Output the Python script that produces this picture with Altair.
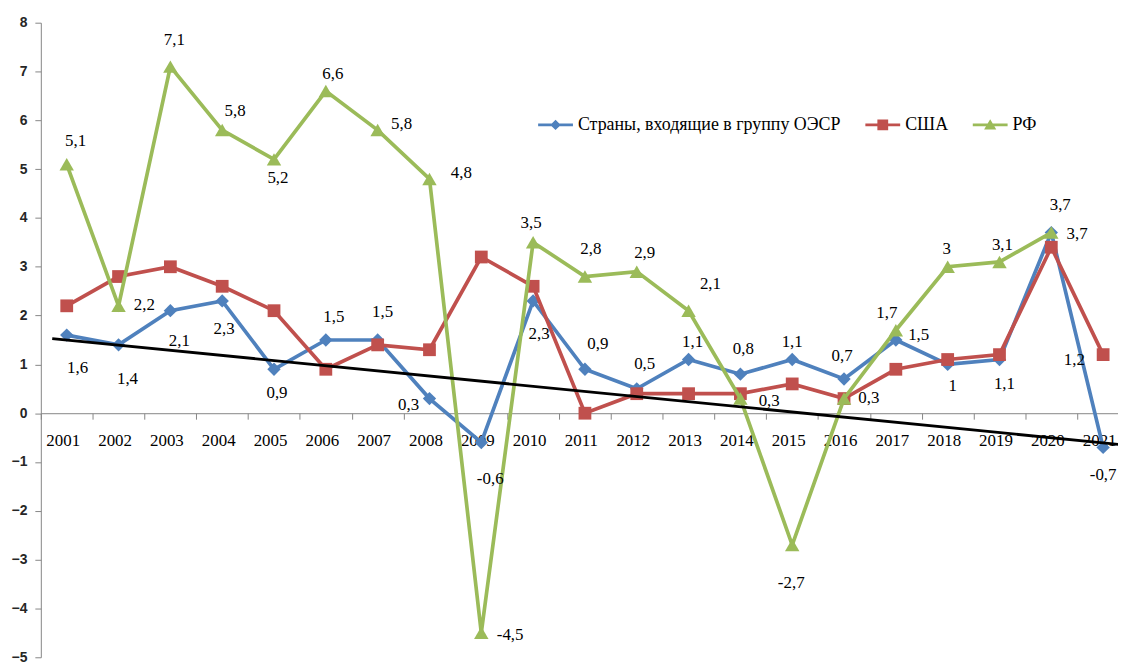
import altair as alt
import pandas as pd

# ---------------- data ----------------
YEARS = list(range(2001, 2022))
SERIES = ["Страны, входящие в группу ОЭСР", "США", "РФ"]
OECD = [1.6, 1.4, 2.1, 2.3, 0.9, 1.5, 1.5, 0.3, -0.6, 2.3, 0.9, 0.5, 1.1, 0.8,
        1.1, 0.7, 1.5, 1.0, 1.1, 3.7, -0.7]
USA = [2.2, 2.8, 3.0, 2.6, 2.1, 0.9, 1.4, 1.3, 3.2, 2.6, 0.0, 0.4, 0.4, 0.4,
       0.6, 0.3, 0.9, 1.1, 1.2, 3.4, 1.2]
RF_YEARS = list(range(2001, 2021))
RF = [5.1, 2.2, 7.1, 5.8, 5.2, 6.6, 5.8, 4.8, -4.5, 3.5, 2.8, 2.9, 2.1, 0.3,
      -2.7, 0.3, 1.7, 3.0, 3.1, 3.7]
USA_LABEL_YEARS = [2021]
TREND_YEARS = [2000.72, 2021.3]
TREND_VALUES = [1.53, -0.64]
Y_TICKS = list(range(-5, 9))

# ---------------- layout / style ----------------
COLORS = ["#4F81BD", "#C0504D", "#9BBB59"]
SHAPES = ["diamond", "square", "triangle-up"]
SIZES = [180, 165, 210]
LEG_PATHS = [
    "M-1,-0.077H1V0.077H-1Z M0,-0.3L0.3,0L0,0.3L-0.3,0Z",
    "M-1,-0.077H1V0.077H-1Z M-0.31,-0.31H0.31V0.31H-0.31Z",
    "M-1,-0.077H1V0.077H-1Z M0,-0.33L0.35,0.27L-0.35,0.27Z",
]
# label offsets (dx, dy) in pixels relative to the point
OFF_OECD = {2001: (11, 33), 2002: (9, 34), 2003: (9, 30), 2004: (2, 28), 2005: (3, 24),
            2006: (8, -23), 2007: (5, -28), 2008: (-21, 6), 2009: (9, 37), 2010: (6, 33),
            2011: (13, -25), 2012: (8, -25), 2013: (4, -18), 2014: (3, -25), 2015: (0, -18),
            2016: (-2, -23), 2017: (23, -5), 2018: (5, 22), 2019: (5, 25), 2020: (26, 1),
            2021: (0, 28)}
OFF_RF = {2001: (9, -23), 2002: (26, -1), 2003: (4, -27), 2004: (13, -19), 2005: (4, 19),
          2006: (7, -17), 2007: (24, -6), 2008: (32, -6), 2009: (29, 2), 2010: (-2, -19),
          2011: (6, -28), 2012: (8, -19), 2013: (22, -27), 2014: (29, 2), 2015: (-1, 38),
          2016: (25, -1), 2017: (-9, -17), 2018: (-1, -18), 2019: (3, -17), 2020: (9, -28)}
OFF_USA = {2021: (-29, 5)}

W, H = 1083, 638
PX_PER_YEAR = 52.1
X_DOMAIN = [2000.5, 2000.5 + W / PX_PER_YEAR]
AXIS_OFFSET = -H * 5 / 13
SERIF = "Liberation Serif"
GRAY = "#868686"


def fmt(v):
    return f"{v:g}".replace(".", ",")


xscale = alt.Scale(domain=X_DOMAIN, nice=False, zero=False)
yscale = alt.Scale(domain=[-5, 8], nice=False, zero=False)

main_xaxis = alt.Axis(orient="bottom", offset=AXIS_OFFSET, values=YEARS, format="d",
                      ticks=False, tickSize=0, labelPadding=19, labelOffset=-4,
                      labelFont=SERIF, labelFontSize=17, labelColor="black",
                      domainColor=GRAY, grid=False, title=None, labelFlush=False,
                      labelOverlap=False)
tick_xaxis = alt.Axis(orient="bottom", offset=AXIS_OFFSET,
                      values=[y - 0.5 for y in YEARS[:-1]] + [YEARS[-1] - 0.5],
                      labels=False, domain=False, ticks=True, tickSize=6,
                      tickColor=GRAY, grid=False, title=None)
yaxis = alt.Axis(values=Y_TICKS, grid=False, title=None, tickSize=6, labelPadding=8,
                 labelFont="Liberation Sans", labelFontSize=14, labelFontWeight="bold",
                 labelColor="#262626", domainColor=GRAY, tickColor=GRAY, format="d")

X_MAIN = alt.X("year:Q", scale=xscale, axis=main_xaxis)
Y_ENC = alt.Y("value:Q", scale=yscale, axis=yaxis)

series_vals = [(YEARS, OECD), (YEARS, USA), (RF_YEARS, RF)]
lines = []
for i, (yrs, vals) in enumerate(series_vals):
    df = pd.DataFrame({"year": yrs, "value": vals})
    lines.append(
        alt.Chart(df).mark_line(
            color=COLORS[i], strokeWidth=3.7,
            point=alt.OverlayMarkDef(shape=SHAPES[i], size=SIZES[i], filled=True,
                                     color=COLORS[i], opacity=1))
        .encode(x=X_MAIN, y=Y_ENC)
    )

# data labels
rows = []
for yrs, vals, offs in [(YEARS, OECD, OFF_OECD), (RF_YEARS, RF, OFF_RF)]:
    for y, v in zip(yrs, vals):
        dx, dy = offs[y]
        rows.append({"year": y, "value": v, "label": fmt(v), "dx": dx, "dy": dy})
for y in USA_LABEL_YEARS:
    v = USA[YEARS.index(y)]
    dx, dy = OFF_USA[y]
    rows.append({"year": y, "value": v, "label": fmt(v), "dx": dx, "dy": dy})
lab_df = pd.DataFrame(rows)
labels = alt.Chart(lab_df).mark_text(
    font=SERIF, fontSize=17, color="black", align="center", baseline="middle",
    dx=alt.ExprRef(expr="datum.dx"), dy=alt.ExprRef(expr="datum.dy")
).encode(x=X_MAIN, y=Y_ENC, text="label:N")

# legend-only layer (no drawable rows)
leg_df = pd.DataFrame({"series": SERIES, "year": [float("nan")] * 3,
                       "value": [float("nan")] * 3})
legend = alt.Legend(orient="none", legendX=500, legendY=85, direction="horizontal",
                    title=None, symbolSize=1225, labelFont=SERIF, labelFontSize=18,
                    labelColor="black", columnPadding=24, labelOffset=5, padding=0,
                    symbolStrokeWidth=0, labelLimit=500)
leg_layer = alt.Chart(leg_df).mark_point(filled=True, opacity=1).encode(
    x=X_MAIN, y=Y_ENC,
    color=alt.Color("series:N", scale=alt.Scale(domain=SERIES, range=COLORS), legend=legend),
    shape=alt.Shape("series:N", scale=alt.Scale(domain=SERIES, range=LEG_PATHS), legend=legend),
)

main = alt.layer(*lines, labels, leg_layer)

trend_df = pd.DataFrame({"year": TREND_YEARS, "value": TREND_VALUES})
trend = alt.Chart(trend_df).mark_line(color="black", strokeWidth=2.8, clip=True).encode(
    x=alt.X("year:Q", scale=xscale, axis=tick_xaxis), y=Y_ENC)

chart = (
    alt.layer(main, trend)
    .resolve_scale(x="independent")
    .properties(width=W, height=H, autosize=alt.AutoSizeParams(type="none"),
                padding={"left": 33, "top": 13, "right": 0, "bottom": 8},
                background="white")
    .configure_view(stroke=None)
)

chart.save("out.html", embed_options={"renderer": "svg", "actions": False})
